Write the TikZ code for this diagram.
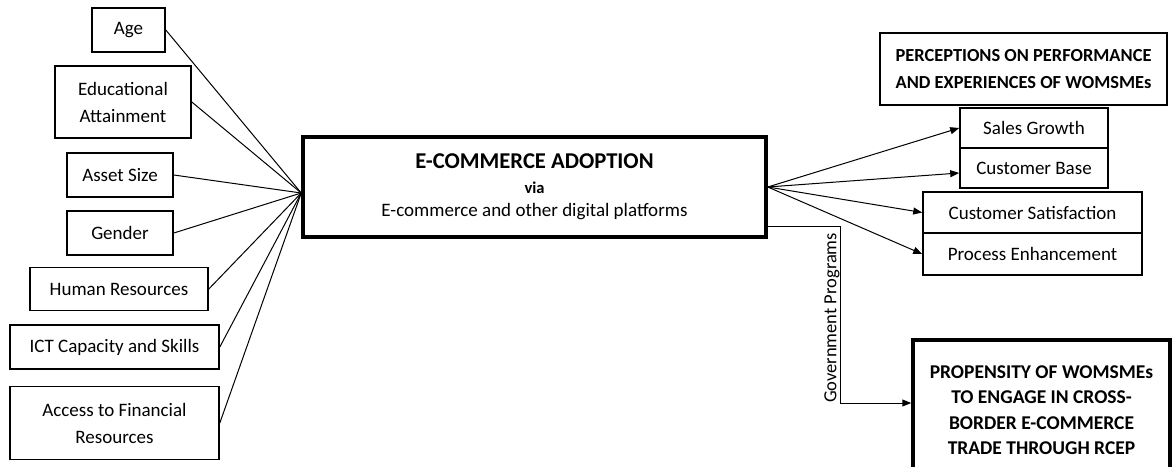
\documentclass[tikz,border=0pt]{standalone}
\usepackage{fontspec}
\setmainfont{Carlito}
\usetikzlibrary{arrows.meta}
\begin{document}
\begin{tikzpicture}[x=1pt,y=-1pt,
  factor/.style={draw,line width=1.6pt,inner sep=0pt,align=center,font=\fontsize{19}{27}\selectfont},
  heavy/.style={draw,line width=3.5pt,inner sep=0pt,align=center,font=\fontsize{19}{27}\selectfont\bfseries},
  arr/.style={-{Triangle[length=9pt,width=7pt]},line width=1pt}]
\useasboundingbox (0,0) rectangle (1172,466);
\node [heavy,minimum width=463pt,minimum height=100pt] (adopt) at (534.5,187)
  {{\fontsize{22.6}{22.6}\selectfont E-COMMERCE ADOPTION}\\[-2pt]{\fontsize{16.5}{16.5}\selectfont via}\\[-4pt]{\mdseries E-commerce and other digital platforms}};
\coordinate (hub) at ([yshift=-6pt]adopt.west);
% left side
\foreach \n/\x/\y/\w/\h/\t in {age/128.5/30/73/44/Age,edu/123/102/136/72/Educational\\Attainment,
  asset/120/175/106/44/Asset Size,gender/120/233/106/44/Gender,hr/119/289/178/43/Human Resources,
  ict/114.5/347/209/44/ICT Capacity and Skills,access/114.5/423/209/73/Access to Financial\\Resources}{
  \node [factor,minimum width=\w pt,minimum height=\h pt] (\n) at (\x,\y) {\t};
  \draw [line width=1pt] (\n.east) -- (hub);
}
% right side
\node [heavy,line width=2.5pt,minimum width=287pt,minimum height=72pt,font=\fontsize{18.4}{27}\selectfont\bfseries] (percep) at (1023.5,69)
  {PERCEPTIONS ON PERFORMANCE\\AND EXPERIENCES OF WOMSMEs};
\foreach \n/\x/\y/\w/\h/\t in {sales/1034/128/148/40/Sales Growth,base/1034/168/148/40/Customer Base,
  satis/1032.5/212.5/219/41/Customer Satisfaction,proc/1032.5/254/219/42/Process Enhancement}{
  \node [factor,minimum width=\w pt,minimum height=\h pt] (\n) at (\x,\y) {\t};
}
\draw [arr] (adopt.east) -- (sales.west);
\draw [arr] (adopt.east) -- ([yshift=-5pt]base.west);
\draw [arr] (adopt.east) -- (satis.west);
\draw [arr] (adopt.east) -- (proc.west);
\node [heavy,minimum width=257pt,minimum height=140pt,font=\fontsize{19.5}{25.5}\selectfont\bfseries] (prop) at (1041.5,410)
  {PROPENSITY OF WOMSMEs\\TO ENGAGE IN CROSS-\\BORDER E-COMMERCE\\TRADE THROUGH RCEP};
\draw [arr] ([yshift=-39pt]adopt.east) -| ([xshift=-71pt,yshift=7pt]prop.west) -- ([yshift=7pt]prop.west);
\node [rotate=90,font=\fontsize{18.5}{18.5}\selectfont] (govt) at (832,318) {Government Programs};
\end{tikzpicture}
\end{document}
